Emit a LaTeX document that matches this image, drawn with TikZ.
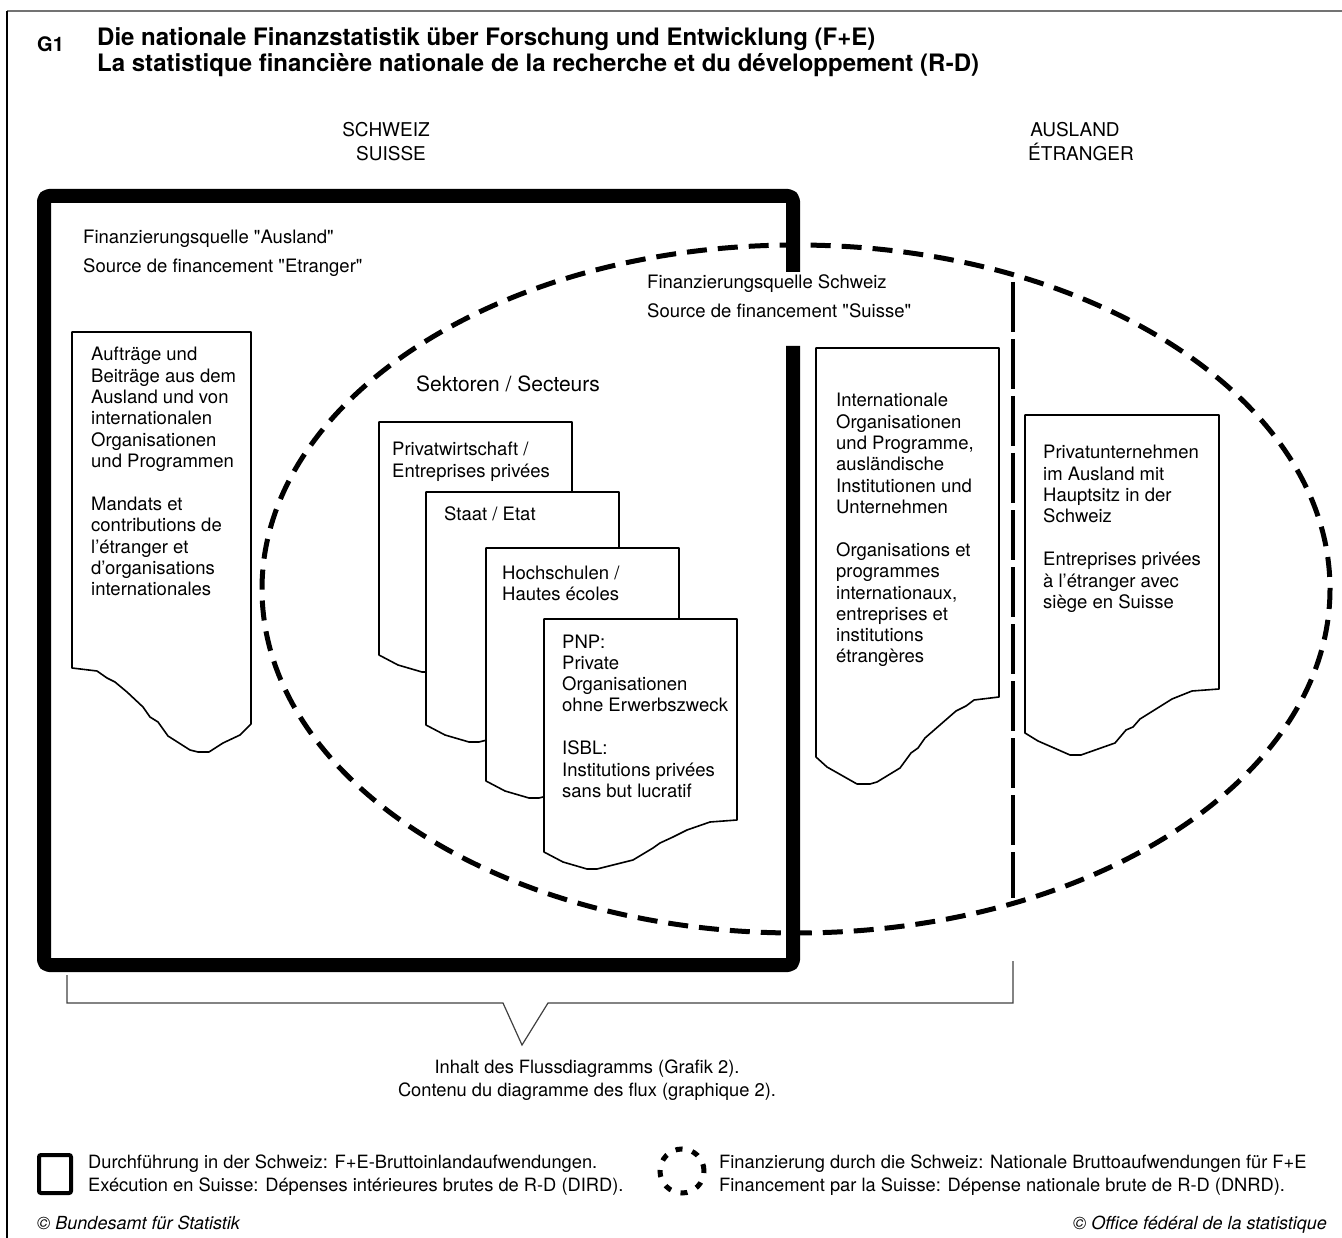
\documentclass[tikz,border=0pt]{standalone}
\usepackage{fontspec}
\setmainfont{TeX Gyre Heros}
\newcommand{\blk}[1]{\begin{tabular}[t]{@{}l@{}}#1\end{tabular}}
\newcommand{\stq}{{\XeTeXglyph\XeTeXcharglyph"0022\relax}}
\begin{document}
\begin{tikzpicture}[x=1pt,y=-1pt,
  txt/.style={inner sep=0pt, anchor=base west, font=\fontsize{18.5}{21.3}\selectfont},
  regionlbl/.style={inner sep=0pt, anchor=base, font=\fontsize{19}{23}\selectfont},
  titlef/.style={inner sep=0pt, anchor=base west, font=\fontsize{24}{26}\selectfont\bfseries},
  legtxt/.style={inner sep=0pt, anchor=base west, font=\fontsize{18.3}{23}\selectfont},
  foot/.style={inner sep=0pt, font=\fontsize{18}{20}\selectfont\itshape},
  thickbox/.style={line width=14pt, rounded corners=5pt, line join=round},
  dashell/.style={line width=5pt, dash pattern=on 20pt off 11pt},
  vdash/.style={line width=4pt, dash pattern=on 50pt off 7pt},
  docshape/.style={draw, line width=1.6pt, fill=white, line join=round},
  bracket/.style={line width=1.2pt, black!75},
  legbox/.style={line width=4pt, rounded corners=2pt},
  legcirc/.style={line width=5pt, dash pattern=on 7pt off 10pt},
]
\useasboundingbox (0,0) rectangle (1342,1238);

% frame
\draw[line width=2.5pt, black!55] (7,11) -- (1342,11);
\draw[line width=1.2pt] (7,11) -- (7,1238);

% title
\node[titlef, font=\fontsize{20}{22}\selectfont\bfseries] (g1) at (37,52) {G1};
\node[titlef] (t1) at (97,46) {Die nationale Finanzstatistik über Forschung und Entwicklung (F+E)};
\node[titlef] (t2) at (97,72) {La statistique financière nationale de la recherche et du développement (R-D)};

% region labels
\node[regionlbl] (ch1) at (386,137) {SCHWEIZ};
\node[regionlbl] (ch2) at (391,161) {SUISSE};
\node[regionlbl] (au1) at (1075,137) {AUSLAND};
\node[regionlbl] (au2) at (1081,161) {ÉTRANGER};

% dashed ellipse (national financing)
\draw[dashell] (796,589) ellipse [x radius=534, y radius=344];

% vertical dashed border Schweiz / Ausland
\coordinate (vtop) at (1013,282);
\coordinate (vbot) at (1013,898);
\draw[vdash] (vtop) -- (vbot);

% thick box (execution in Switzerland)
\draw[thickbox] (793,272) -- (793,196) -- (44,196) -- (44,965) -- (793,965) -- (793,346);

% left document
\draw[docshape] (72,332) -- (251,332) -- (251,724) -- (240,735) -- (223,743) -- (209,752) -- (198,752) -- (190,750) -- (168,736) -- (158,722) -- (150,717) -- (143,707) -- (127,692) -- (115,682) -- (107,678) -- (97,671) -- (72,668) -- cycle;

% international document
\draw[docshape] (816,348) -- (999,348) -- (999,697) -- (974,700) -- (966,706) -- (956,711) -- (925,738) -- (918,748) -- (911,753) -- (900,768) -- (877,782) -- (870,784) -- (857,784) -- (827,767) -- (816,757) -- cycle;

% private enterprises abroad document
\draw[docshape] (1025,415) -- (1219,415) -- (1219,689) -- (1192,691) -- (1172,699) -- (1140,719) -- (1133,727) -- (1126,730) -- (1115,743) -- (1081,755) -- (1070,755) -- (1038,741) -- (1025,733) -- cycle;

% sector documents
\foreach \L/\T in {379/422, 426/492, 486/548, 544/619}{
  \draw[docshape, shift={(\L,\T)}] (0,0) -- (193,0) -- (193,201) -- (166,203) -- (143,211) -- (129,218) -- (116,224) -- (109,229) -- (89,241) -- (69,246) -- (53,250) -- (43,250) -- (19,243) -- (0,233) -- cycle;
}

% texts
\node[txt] (fqa1) at (83,244) {Finanzierungsquelle \stq Ausland\stq};
\node[txt] (fqa2) at (83,273) {Source de financement \stq Etranger\stq};
\node[txt] (fqs1) at (647,289) {Finanzierungsquelle Schweiz};
\node[txt] (fqs2) at (647,318) {Source de financement \stq Suisse\stq};

\node[txt] (ldoc) at (91,361) {\blk{Aufträge und\\ Beiträge aus dem\\ Ausland und von\\ internationalen\\ Organisationen\\ und Programmen\\[21.7pt] Mandats et\\ contributions de\\ l’étranger et\\ d’organisations\\ internationales}};

\node[txt, font=\fontsize{21}{24}\selectfont] (sek) at (416,392) {Sektoren / Secteurs};
\node[txt] (sa) at (392,456) {\blk{Privatwirtschaft /\\ Entreprises privées}};
\node[txt] (sb) at (444,520) {Staat / Etat};
\node[txt] (sc) at (502,579) {\blk{Hochschulen /\\ Hautes écoles}};
\node[txt] (sd) at (562,648) {\blk{PNP:\\ Private\\ Organisationen\\ ohne Erwerbszweck\\[21.7pt] ISBL:\\ Institutions privées\\ sans but lucratif}};

\node[txt] (idoc) at (836,407) {\blk{Internationale\\ Organisationen\\ und Programme,\\ ausländische\\ Institutionen und\\ Unternehmen\\[21.7pt] Organisations et\\ programmes\\ internationaux,\\ entreprises et\\ institutions\\ étrangères}};

\node[txt] (pdoc) at (1043,459) {\blk{Privatunternehmen\\ im Ausland mit\\ Hauptsitz in der\\ Schweiz\\[21.7pt] Entreprises privées\\ à l’étranger avec\\ siège en Suisse}};

% bracket
\coordinate (bl) at (67,975);
\coordinate (br) at (1013,961);
\draw[bracket] (bl) -- (67,1003) -- (503,1003) -- (522,1045) -- (548,1003) -- (1013,1003) -- (br);
\node[legtxt, anchor=base] (inh1) at (587,1073) {Inhalt des Flussdiagramms (Grafik 2).};
\node[legtxt, anchor=base] (inh2) at (587,1096) {Contenu du diagramme des flux (graphique 2).};

% legend
\draw[legbox] (39,1155) rectangle (71,1193);
\node[legtxt] (leg1) at (88,1168) {Durchführung in der Schweiz: F+E-Bruttoinlandaufwendungen.};
\node[legtxt] (leg2) at (88,1191) {Exécution en Suisse: Dépenses intérieures brutes de R-D (DIRD).};
\draw[legcirc] (682,1171) circle [radius=22pt];
\node[legtxt] (leg3) at (719,1168) {Finanzierung durch die Schweiz: Nationale Bruttoaufwendungen für F+E};
\node[legtxt] (leg4) at (719,1191) {Financement par la Suisse: Dépense nationale brute de R-D (DNRD).};

% footer
\node[foot, anchor=base west] (f1) at (37,1229) {© Bundesamt für Statistik};
\node[foot, anchor=base east] (f2) at (1327,1229) {© Office fédéral de la statistique};
\end{tikzpicture}
\end{document}
